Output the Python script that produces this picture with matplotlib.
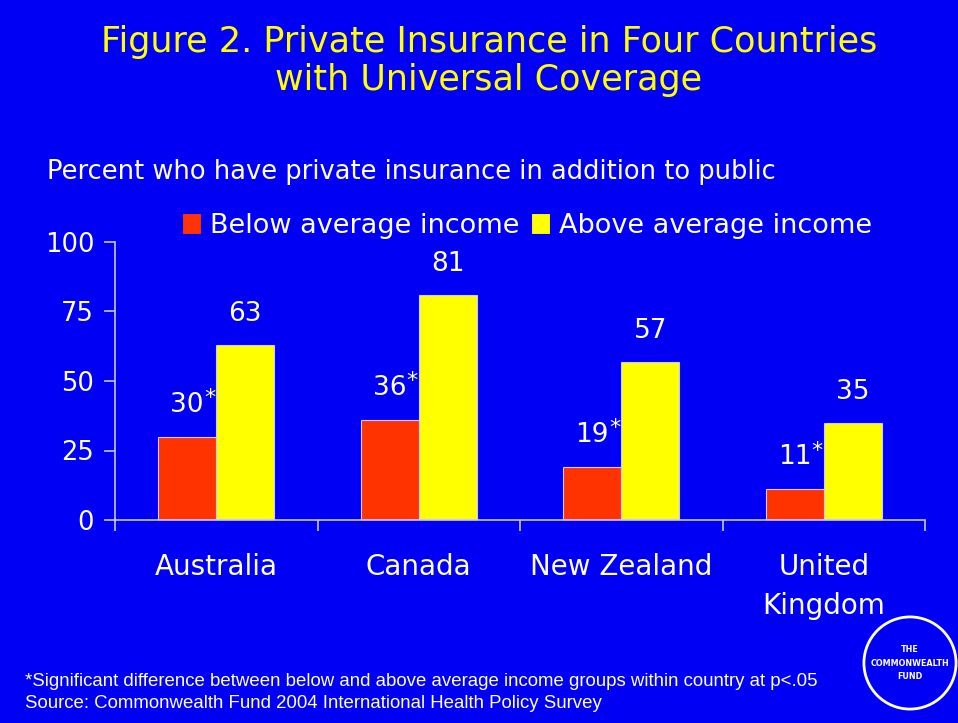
import matplotlib.pyplot as plt
import numpy as np
from matplotlib.patches import Circle

countries = ["Australia", "Canada", "New Zealand", "United\nKingdom"]
below_avg = [30, 36, 19, 11]
above_avg = [63, 81, 57, 35]
significant = [True, True, True, True]
y_ticks = [0, 25, 50, 75, 100]

BG = "#0000F5"
RED = "#FF3300"
YELLOW = "#FFFF00"
LINE = "#C8C8FF"

fig = plt.figure(figsize=(9.58, 7.23), dpi=100, facecolor=BG)
W, H = 958, 723

# ------- titles ------- #
fig.text(489 / W, 1 - 42 / H, "Figure 2. Private Insurance in Four Countries",
         color=YELLOW, fontsize=25.2, ha="center", va="center")
fig.text(489 / W, 1 - 80 / H, "with Universal Coverage",
         color=YELLOW, fontsize=25.2, ha="center", va="center")
fig.text(47 / W, 1 - 172 / H, "Percent who have private insurance in addition to public",
         color="white", fontsize=18.5, ha="left", va="center")

# ------- axes ------- #
ax = fig.add_axes([115 / W, (H - 520) / H, 810 / W, 278 / H])
ax.set_facecolor(BG)
x = np.arange(len(countries))
w = 0.287
b1 = ax.bar(x - w / 2, below_avg, w, color=RED, edgecolor=LINE, linewidth=0.8,
            label="Below average income")
b2 = ax.bar(x + w / 2, above_avg, w, color=YELLOW, edgecolor=LINE, linewidth=0.8,
            label="Above average income")

ax.set_xlim(-0.5, len(countries) - 0.5)
ax.set_ylim(0, 100)
ax.set_yticks(y_ticks)
ax.set_yticklabels([str(t) for t in y_ticks])
ax.set_xticks(np.arange(len(countries) + 1) - 0.5)
ax.set_xticklabels([])
ax.tick_params(axis="y", colors=LINE, labelcolor="white", labelsize=18.5,
               length=8, width=1.2, pad=7)
ax.tick_params(axis="x", colors=LINE, length=8, width=1.2, direction="out")
for s in ("top", "right"):
    ax.spines[s].set_visible(False)
for s in ("left", "bottom"):
    ax.spines[s].set_color(LINE)
    ax.spines[s].set_linewidth(1.2)

for i, name in enumerate(countries):
    ax.text(i, -0.12, name, transform=ax.get_xaxis_transform(), color="white",
            fontsize=20, ha="center", va="top", linespacing=1.5)

# ------- value labels ------- #
for rect, v, sig in zip(b1, below_avg, significant):
    cx = rect.get_x() + rect.get_width() / 2
    ax.annotate(str(v), (cx, v), xytext=(0, 23), textcoords="offset points",
                color="white", fontsize=19, ha="center", va="center")
    if sig:
        ax.annotate("*", (cx, v), xytext=(16, 28), textcoords="offset points",
                    color="white", fontsize=16, ha="center", va="center")
for rect, v in zip(b2, above_avg):
    cx = rect.get_x() + rect.get_width() / 2
    ax.annotate(str(v), (cx, v), xytext=(0, 22), textcoords="offset points",
                color="white", fontsize=19, ha="center", va="center")

# ------- legend ------- #
leg = fig.legend(handles=[b1, b2], loc="center", bbox_to_anchor=(527 / W, 1 - 226 / H),
                 ncol=2, frameon=False, fontsize=19.5, labelcolor="white",
                 handlelength=0.7, handleheight=0.8, handletextpad=0.35,
                 columnspacing=0.4)
for h in leg.legend_handles:
    h.set_edgecolor(BG)

# ------- footnotes ------- #
fig.text(25 / W, 1 - 681 / H,
         "*Significant difference between below and above average income groups within country at p<.05",
         color="white", fontsize=13.4, family="Liberation Sans", ha="left", va="center")
fig.text(25 / W, 1 - 703 / H, "Source: Commonwealth Fund 2004 International Health Policy Survey",
         color="white", fontsize=13.4, family="Liberation Sans", ha="left", va="center")

# ------- logo ------- #
logo_ax = fig.add_axes([862 / W, (H - 711) / H, 96 / W, 96 / H])
logo_ax.set_xlim(-1, 1)
logo_ax.set_ylim(-1, 1)
logo_ax.axis("off")
logo_ax.add_patch(Circle((0, 0), 0.96, fill=False, edgecolor="white", linewidth=2))
logo_ax.text(0, 0, "THE\nCOMMONWEALTH\nFUND", color="white", fontsize=5.8,
             fontweight="bold", ha="center", va="center", linespacing=1.7)

fig.savefig("out.png", dpi=100, facecolor=BG)
